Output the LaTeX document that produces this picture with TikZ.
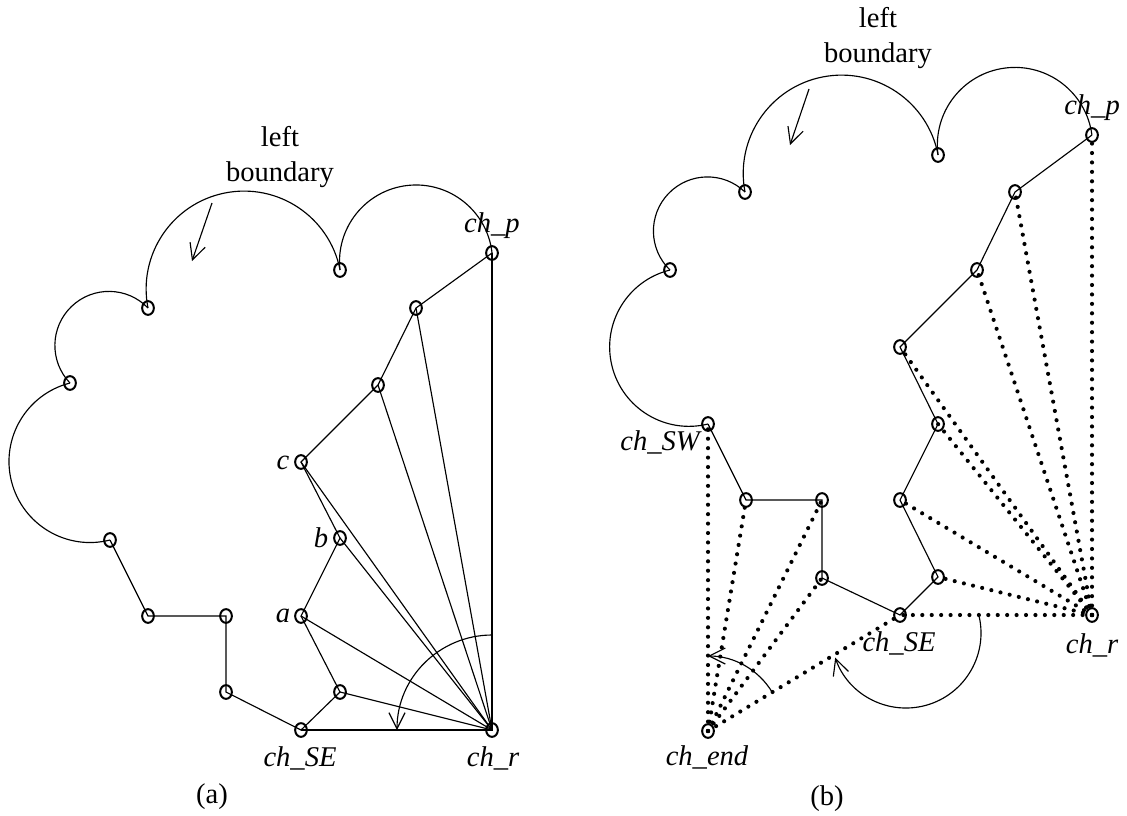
\documentclass[tikz,border=0pt]{standalone}
\usepackage{fontspec}
\setmainfont{Liberation Serif}
\usetikzlibrary{arrows.meta,shapes.geometric,positioning}
\tikzset{
    >={Straight Barb[length=5.6pt,width=5.6pt]},
    vtx/.style={
        ellipse,
        draw, line width=0.7pt,
        inner sep=0pt,
        minimum width=4.1pt,
        minimum height=4.8pt
    },
    hull/.style={draw, line width=0.4pt},
    sweep/.style={draw, line width=1.45pt, line cap=round, dash pattern=on 0pt off 3.3pt},
    lbl/.style={font=\itshape, inner sep=0pt},
    caption/.style={inner sep=0pt, align=center}
}

\begin{document}
\begin{tikzpicture}[x=0.35pt, y=-0.35pt]
\useasboundingbox (0,0) rectangle (1127,815);

% ---- (a) ----
\node[vtx] (aL1) at (148,308) {};
\node[vtx] (aL2) at (70,383) {};
\node[vtx] (aL3) at (110,540) {};
\node[vtx] (aL4) at (148,616) {};
\node[vtx] (aL5) at (226,616) {};
\node[vtx] (aL6) at (226,692) {};
\node[vtx] (aT)  at (340,270) {};
\node[vtx] (aSE) at (301,730) {};
\node[vtx] (aD)  at (340,692) {};
\node[vtx] (aA)  at (301,616) {};
\node[vtx] (aB)  at (340,538) {};
\node[vtx] (aC)  at (301,462) {};
\node[vtx] (aE)  at (378,385) {};
\node[vtx] (aF)  at (416,308) {};
\node[vtx] (aP)  at (492,253) {};
\node[vtx] (aR)  at (492,730) {};

\draw[hull] (aL3.center) -- (aL4.center) -- (aL5.center) -- (aL6.center) -- (aSE.center)
    -- (aD.center) -- (aA.center) -- (aB.center) -- (aC.center) -- (aE.center) -- (aF.center) -- (aP.center);
\draw[hull] (aSE.center) -- (aR.center) -- (aP.center);
\foreach \v in {aD,aA,aB,aC,aE,aF}
    \draw[hull] (\v.center) -- (aR.center);

% left boundary arcs
\draw[hull] (aL1.center) arc[start angle=168.8, end angle=348.8, radius=97.9];
\draw[hull] (aT.center) arc[start angle=173.6, end angle=353.6, radius=76.5];
\draw[hull] (aL2.center) arc[start angle=136.1, end angle=316.1, radius=54.1];
\draw[hull] (aL3.center) arc[start angle=75.7, end angle=255.7, radius=81];

\coordinate (aArrS) at (212,203);
\coordinate (aArrE) at (192,261);
\draw[hull,->] (aArrS) -- (aArrE);
\draw[hull,->] (aR.center) ++(0,-95) arc[start angle=-90, end angle=-180, radius=95];

\node[caption] (aLeft) at (280,157) {left\\boundary};
\node[lbl] (aPl)  at (492,226) {ch\_p};
\node[lbl] (aCl)  at (283,463) {c};
\node[lbl] (aBl)  at (321,538) {b};
\node[lbl] (aAl)  at (283,616) {a};
\node[lbl] (aSEl) at (300,758) {ch\_SE};
\node[lbl] (aRl)  at (493,758) {ch\_r};
\node[caption] (aCap) at (212,797) {(a)};

% ---- (b) ----
\node[vtx] (bU1) at (670,270) {};
\node[vtx] (bU2) at (745,192) {};
\node[vtx] (bU3) at (938,155) {};
\node[vtx] (bP)  at (1092,135) {};
\node[vtx] (bQ1) at (1015,192) {};
\node[vtx] (bQ2) at (977,270) {};
\node[vtx] (bQ3) at (900,347) {};
\node[vtx] (bQ4) at (938,424) {};
\node[vtx] (bQ5) at (900,500) {};
\node[vtx] (bQ6) at (938,577) {};
\node[vtx] (bSE) at (900,615) {};
\node[vtx] (bW1) at (822,578) {};
\node[vtx] (bW2) at (822,500) {};
\node[vtx] (bW3) at (746,500) {};
\node[vtx] (bSW) at (708,424) {};
\node[vtx] (bR)  at (1092,615) {};
\node[vtx] (bEnd) at (708,731) {};

\draw[hull] (bP.center) -- (bQ1.center) -- (bQ2.center) -- (bQ3.center) -- (bQ4.center) -- (bQ5.center)
    -- (bQ6.center) -- (bSE.center) -- (bW1.center) -- (bW2.center) -- (bW3.center) -- (bSW.center);
\foreach \v in {bP,bQ1,bQ2,bQ3,bQ4,bQ5,bQ6,bSE}
    \draw[sweep] (bR.center) -- (\v.center);
\foreach \v in {bSW,bW3,bW2,bW1,bSE}
    \draw[sweep] (bEnd.center) -- (\v.center);

% left boundary arcs
\draw[hull] (bSW.center) arc[start angle=76.1, end angle=256.1, radius=79.3];
\draw[hull] (bU1.center) arc[start angle=133.9, end angle=313.9, radius=54.1];
\draw[hull] (bU2.center) arc[start angle=169.1, end angle=349.1, radius=98.3];
\draw[hull] (bU3.center) arc[start angle=172.6, end angle=352.6, radius=77.6];

\coordinate (bArrS) at (809,89);
\coordinate (bArrE) at (790,145);
\draw[hull,->] (bArrS) -- (bArrE);
\draw[hull,->] (bEnd.center) ++(-31.1:75) arc[start angle=-31.1, end angle=-90, radius=75];
\coordinate (bTurn) at (906,633);
\draw[hull,->] (bTurn) ++(-12.5:75) arc[start angle=-12.5, end angle=160.8, radius=75];

\node[caption] (bLeft) at (878,38) {left\\boundary};
\node[lbl] (bPl)   at (1092,108) {ch\_p};
\node[lbl] (bSWl)  at (660,442) {ch\_SW};
\node[lbl] (bSEl)  at (899,643) {ch\_SE};
\node[lbl] (bRl)   at (1092,645) {ch\_r};
\node[lbl] (bEndl) at (707,757) {ch\_end};
\node[caption] (bCap) at (827,799) {(b)};
\end{tikzpicture}
\end{document}
